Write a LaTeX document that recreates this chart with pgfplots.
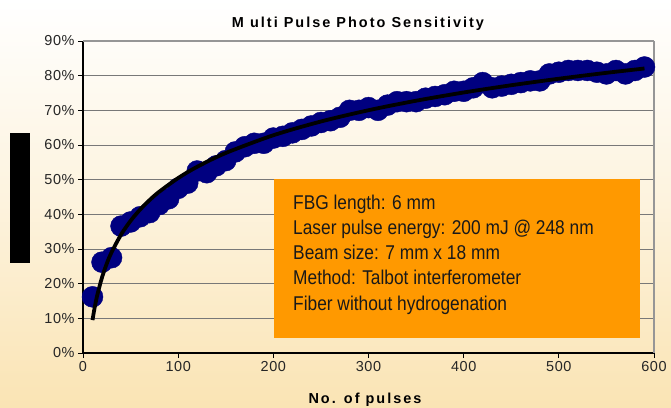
\documentclass[border=0pt]{standalone}
\usepackage{pgfplots}
\pgfplotsset{compat=1.18}
\usepackage{fontspec}
\setmainfont{Liberation Sans}
\newfontfamily\narrowfont[FakeStretch=0.87]{Liberation Sans}
\newfontfamily\spacedfont[LetterSpace=14]{Liberation Sans}
\newfontfamily\tickfont[LetterSpace=4]{Liberation Sans}
\definecolor{navy}{RGB}{0,0,128}
\definecolor{boxorange}{RGB}{255,153,0}
\definecolor{bgbottom}{RGB}{250,228,180}
\definecolor{gridgray}{RGB}{120,120,120}
\definecolor{framegray}{RGB}{150,150,150}
\begin{document}
\begin{tikzpicture}[x=1bp,y=1bp]
\clip (0,0) rectangle (671,407);
\shade[top color=white, bottom color=bgbottom, middle color=white!55!bgbottom] (0,0) rectangle (671,407);
\fill[black] (10,144) rectangle (30,274);
\begin{axis}[
  at={(83bp,54bp)}, anchor=south west,
  scale only axis, width=571bp, height=312bp,
  xmin=0, xmax=600, ymin=0, ymax=90,
  xtick={0,100,...,600}, ytick={0,10,...,90},
  yticklabels={0\%,10\%,20\%,30\%,40\%,50\%,60\%,70\%,80\%,90\%},
  /pgf/number format/assume math mode=true,
  ticklabel style={font=\tickfont\fontsize{14.5}{16}\selectfont, text=black!85},
  axis lines*=left,
  axis line style={black, line width=1.3bp},
  tick align=outside, major tick length=5bp,
  tick style={black, line width=1bp},
  ymajorgrids, grid style={gridgray, line width=0.9bp},
  clip=false, clip mode=individual,
  xtick pos=bottom, ytick pos=left,
]
\draw[framegray, line width=1.5bp] (rel axis cs:1,0) -- (rel axis cs:1,1);
\draw[framegray, line width=1.2bp] (rel axis cs:0,1) -- (rel axis cs:1,1);
\addplot[only marks, mark=*, mark size=10.5bp, mark options={fill=navy, draw=navy}] coordinates {
(10,16.2) (20,26.2) (30,27.5) (40,36.6) (50,37.8) (60,39.3) (70,40.5) (80,42.8)
(90,44.5) (100,47.5) (110,49.0) (120,52.5) (130,52.0) (140,54.0) (150,55.5)
(160,58.0) (170,59.5) (180,60.5) (190,60.5) (200,62.0) (210,62.5) (220,63.5)
(230,64.5) (240,65.5) (250,66.5) (260,67.0) (270,68.0) (280,70.0) (290,70.0)
(300,70.8) (310,70.0) (320,71.5) (330,72.5) (340,72.5) (350,72.5) (360,73.5)
(370,74.0) (380,74.5) (390,75.5) (400,75.5) (410,76.5) (420,78.0) (430,76.5)
(440,77.0) (450,77.5) (460,78.0) (470,78.5) (480,78.5) (490,80.5) (500,81.0)
(510,81.5) (520,81.5) (530,81.5) (540,81.0) (550,80.5) (560,81.5) (570,80.5)
(580,81.5) (590,82.5)
};
\addplot[black, line width=3.8bp, smooth] coordinates {
(10,9.49) (12,12.73) (15,16.70) (20,21.82) (25,25.80) (30,29.04) (40,34.16)
(50,38.13) (60,41.38) (70,44.12) (80,46.50) (100,50.47) (120,53.72) (150,57.69)
(200,62.81) (250,66.78) (300,70.03) (350,72.77) (400,75.15) (450,77.24)
(500,79.12) (550,80.82) (590,82.07)
};
\end{axis}
\fill[boxorange] (274,69) rectangle (640,228);
\node[anchor=base west, align=left, inner sep=0pt, font=\narrowfont\fontsize{20}{25.3}\selectfont, text=black!90] at (293,97)
{FBG length: 6 mm\\Laser pulse energy: 200 mJ @ 248 nm\\Beam size: 7 mm x 18 mm\\Method: Talbot interferometer\\Fiber without hydrogenation};
\node[font=\spacedfont\bfseries\fontsize{14.5}{16}\selectfont, anchor=base] at (358,380) {M ulti Pulse Photo Sensitivity};
\node[font=\spacedfont\bfseries\fontsize{14.5}{16}\selectfont, anchor=base] at (365,4) {No. of pulses};
\end{tikzpicture}
\end{document}
